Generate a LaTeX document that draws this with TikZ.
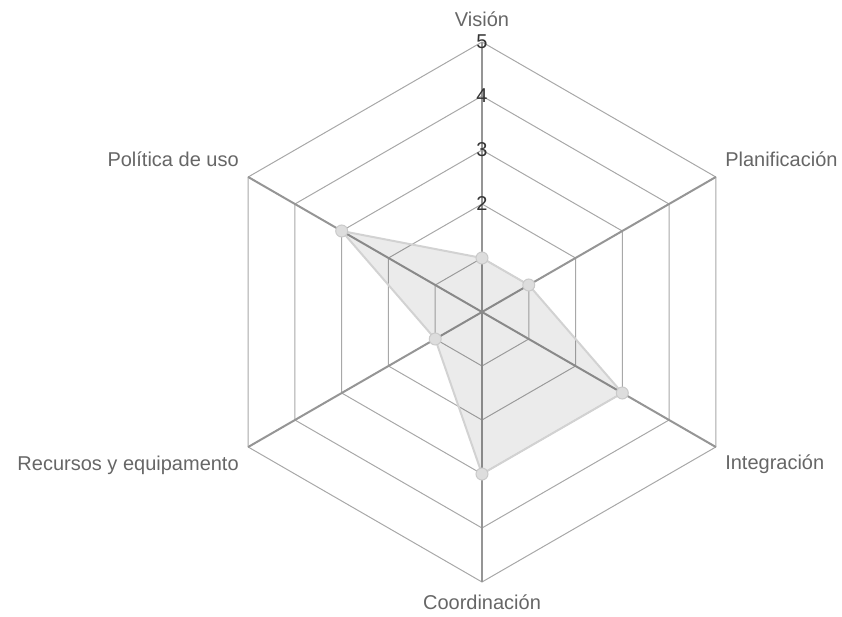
\documentclass[tikz,border=0pt]{standalone}
\usepackage{fontspec}
\setmainfont{Liberation Sans}
\usetikzlibrary{positioning}

\definecolor{labelgray}{HTML}{666666}
\definecolor{tickgray}{HTML}{333333}
\definecolor{ringgray}{HTML}{A8A8A8}
\definecolor{spokegray}{HTML}{959595}
\definecolor{areaedge}{HTML}{D2D2D2}
\definecolor{pointfill}{HTML}{DDDDDD}
\definecolor{pointedge}{HTML}{CACACA}

\begin{document}
\begin{tikzpicture}[x=0.75pt,y=0.75pt,
  ring/.style={draw=ringgray,line width=0.75pt},
  spoke/.style={draw=spokegray,line width=1.5pt},
  area/.style={fill=black,fill opacity=0.08,draw=areaedge,draw opacity=1,line width=1.5pt,line join=round},
  datapoint/.style={circle,fill=pointfill,draw=pointedge,line width=0.75pt,minimum size=9pt,inner sep=0pt},
  axislabel/.style={font=\fontsize{15}{18}\selectfont,text=labelgray,inner sep=0pt},
  ticklabel/.style={font=\fontsize{15}{18}\selectfont,text=tickgray,inner sep=0pt}]

  \useasboundingbox (-482,-305) rectangle (360,312);

  \coordinate (c) at (0,0);

  % hexagonal rings, one per level
  \foreach \r in {1,...,5} {
    \draw[ring] (90:\r*54) -- (30:\r*54) -- (-30:\r*54) -- (-90:\r*54)
      -- (210:\r*54) -- (150:\r*54) -- cycle;
  }

  % spokes
  \foreach \a/\n in {90/vis,30/pla,-30/int,-90/coo,210/rec,150/pol} {
    \coordinate (\n) at (\a:270);
    \draw[spoke] (c) -- (\n);
  }

  % data values
  \foreach \a/\v/\n in {90/1/vis,30/1/pla,-30/3/int,-90/3/coo,210/1/rec,150/3/pol} {
    \coordinate (d\n) at (\a:\v*54);
  }
  \draw[area] (dvis) -- (dpla) -- (dint) -- (dcoo) -- (drec) -- (dpol) -- cycle;
  \foreach \n in {vis,pla,int,coo,rec,pol} {
    \node[datapoint] (p\n) at (d\n) {};
  }

  % scale
  \foreach \k in {2,...,5} {
    \node[ticklabel] (tick\k) at (90:\k*54) {\k};
  }

  % axis names
  \node[axislabel,anchor=base] (lvis) at (0,285) {Visión};
  \node[axislabel,anchor=base west] (lpla) at (243,145) {Planificación};
  \node[axislabel,anchor=base west] (lint) at (243,-157) {Integración};
  \node[axislabel,anchor=base] (lcoo) at (0,-297) {Coordinación};
  \node[axislabel,anchor=base east] (lrec) at (-243,-158) {Recursos y equipamento};
  \node[axislabel,anchor=base east] (lpol) at (-243,145) {Política de uso};

\end{tikzpicture}
\end{document}
